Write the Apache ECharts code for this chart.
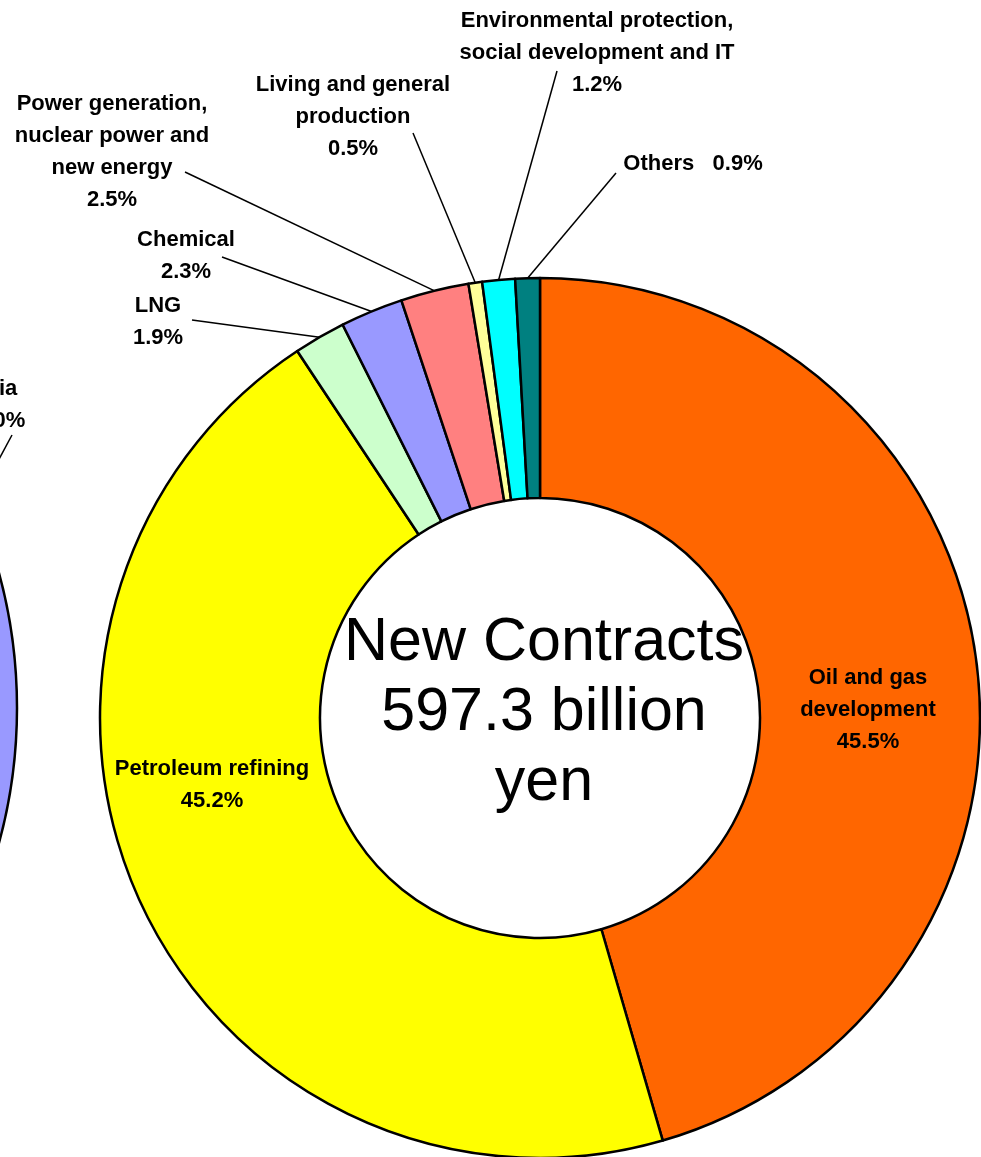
<!DOCTYPE html>
<html>
<head>
<meta charset="utf-8">
<script src="https://cdn.jsdelivr.net/npm/echarts@6/dist/echarts.min.js"></script>
<style>
html,body{margin:0;padding:0;background:#fff;}
#chart{width:981px;height:1157px;}
</style>
</head>
<body>
<div id="chart"></div>
<script>
// ---- data ----
const categories = [
  'Oil and gas\ndevelopment',
  'Petroleum refining',
  'LNG',
  'Chemical',
  'Power generation,\nnuclear power and\nnew energy',
  'Living and general\nproduction',
  'Environmental protection,\nsocial development and IT',
  'Others'
];
const shares = [45.5, 45.2, 1.9, 2.3, 2.5, 0.5, 1.2, 0.9];
const centerText = ['New Contracts', '597.3 billion', 'yen'];

// partially visible neighbouring chart (cropped at left edge)
const regionNames = ['Asia', 'Other regions'];
const regionShares = [37.0, 63.0];

// ---- styling / layout (kept separate from data) ----
const colors = ['#FF6600', '#FFFF00', '#CCFFCC', '#9999FF', '#FF8080', '#FFFF99', '#00FFFF', '#008080'];
const labelCenters = [[868, 710], [212, 785], [158, 322], [186, 256], [112, 152], [353, 117], [597, 53], [693, 164]];
const lineEnds = [null, null, [192, 320], [222, 257], [185, 172], [413, 133], [557, 71], [616, 173]];
const regionLabelCenters = [[-6, 405]];
const regionLineEnds = [[12, 435]];

const font = '"Liberation Sans", Arial, sans-serif';

const chart = echarts.init(document.getElementById('chart'), null, {renderer: 'canvas'});

function makeLayout(centers, ends) {
  return function (params) {
    const c = centers[params.dataIndex];
    if (!c) return {};
    const out = {x: c[0], y: c[1], align: 'center', verticalAlign: 'middle'};
    const e = ends[params.dataIndex];
    if (e && params.labelLinePoints) {
      out.labelLinePoints = [params.labelLinePoints[0], e];
    }
    return out;
  };
}

const mainData = categories.map((n, i) => ({
  name: n,
  value: shares[i],
  itemStyle: {color: colors[i]},
  labelLine: {show: i >= 2},
  label: i === 7 ? {formatter: '{b}   {c}%'} : {}
}));

const regionData = regionNames.map((n, i) => ({
  name: n,
  value: regionShares[i],
  itemStyle: {color: i === 0 ? '#9999FF' : '#993366'},
  label: {show: i === 0},
  labelLine: {show: i === 0}
}));

chart.setOption({
  backgroundColor: '#ffffff',
  animation: false,
  series: [
    {
      type: 'pie',
      center: [-496, 708],
      radius: [250, 513],
      startAngle: 90,
      clockwise: true,
      avoidLabelOverlap: false,
      silent: true,
      itemStyle: {borderColor: '#000', borderWidth: 2.5},
      label: {
        position: 'outside',
        formatter: p => p.name + '\n' + p.value.toFixed(1) + '%',
        color: '#000', fontFamily: font, fontWeight: 'bold', fontSize: 22, lineHeight: 32
      },
      labelLine: {lineStyle: {color: '#000', width: 1.5}, length: 20, length2: 10},
      labelLayout: makeLayout(regionLabelCenters, regionLineEnds),
      data: regionData
    },
    {
      type: 'pie',
      center: [540, 718],
      radius: [220, 440],
      startAngle: 90,
      clockwise: true,
      avoidLabelOverlap: false,
      silent: true,
      itemStyle: {borderColor: '#000', borderWidth: 2.5},
      label: {
        position: 'outside',
        formatter: p => p.name + '\n' + p.value.toFixed(1) + '%',
        color: '#000', fontFamily: font, fontWeight: 'bold', fontSize: 22, lineHeight: 32
      },
      labelLine: {lineStyle: {color: '#000', width: 1.5}, length: 20, length2: 10},
      labelLayout: makeLayout(labelCenters, lineEnds),
      data: mainData
    }
  ],
  graphic: [{
    type: 'text',
    x: 544,
    y: 713,
    silent: true,
    style: {
      text: centerText.join('\n'),
      fill: '#000',
      font: 'normal 61px ' + font,
      lineHeight: 70,
      align: 'center',
      verticalAlign: 'middle'
    }
  }]
});
</script>
</body>
</html>
